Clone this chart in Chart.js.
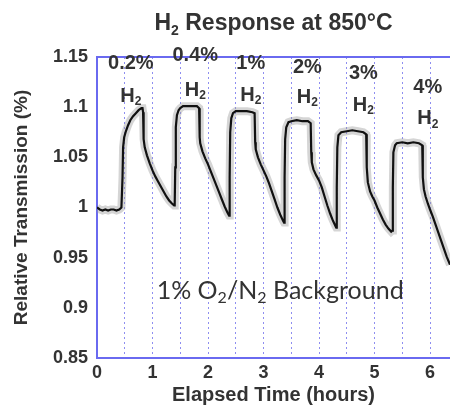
<!DOCTYPE html>
<html>
<head>
<meta charset="utf-8">
<script src="https://cdn.jsdelivr.net/npm/chart.js@4.4.1/dist/chart.umd.min.js"></script>
<style>
  html, body { margin: 0; padding: 0; background: #fff; }
  #wrap { width: 450px; height: 409px; }
</style>
</head>
<body>
<div id="wrap"><canvas id="respChart"></canvas></div>
<script>
// elapsed time (hours) and relative transmission
const elapsedHours = [
  0, 0.05, 0.1, 0.15, 0.2, 0.25, 0.3, 0.35, 0.4, 0.44, 0.46, 0.47, 0.49, 0.52, 0.56, 0.6, 0.65, 0.7, 0.75, 0.8, 0.82, 0.83,
  0.84, 0.86, 0.9, 0.95, 1.0, 1.05, 1.1, 1.15, 1.2, 1.25, 1.3, 1.35, 1.39,
  1.40, 1.41, 1.42, 1.44, 1.47, 1.5, 1.55, 1.6, 1.7, 1.8, 1.84, 1.85, 1.86, 1.9, 1.95, 2.0, 2.05, 2.1, 2.15, 2.2, 2.25, 2.3, 2.35, 2.38,
  2.39, 2.40, 2.42, 2.45, 2.5, 2.6, 2.7, 2.8, 2.84, 2.85, 2.86, 2.9, 2.95, 3.0, 3.05, 3.1, 3.15, 3.2, 3.25, 3.3, 3.35, 3.37,
  3.38, 3.39, 3.41, 3.45, 3.5, 3.6, 3.7, 3.8, 3.85, 3.86, 3.87, 3.9, 3.95, 4.0, 4.05, 4.1, 4.15, 4.2, 4.25, 4.3,
  4.31, 4.32, 4.33, 4.35, 4.4, 4.5, 4.6, 4.7, 4.8, 4.85, 4.86, 4.88, 4.92, 4.96, 5.0, 5.05, 5.1, 5.15, 5.2, 5.25, 5.3,
  5.32, 5.33, 5.34, 5.37, 5.4, 5.5, 5.6, 5.7, 5.8, 5.86, 5.87, 5.89, 5.92, 5.96, 6.0, 6.05, 6.1, 6.15, 6.2, 6.25, 6.3, 6.36
];
const transmission = [
  1.0, 0.998, 0.997, 0.998, 0.997, 0.998, 0.998, 0.997, 0.998, 1.0, 1.03, 1.06, 1.07, 1.076, 1.082, 1.087, 1.091, 1.094, 1.097, 1.099, 1.099, 1.095,
  1.068, 1.06, 1.052, 1.044, 1.037, 1.031, 1.026, 1.021, 1.016, 1.011, 1.007, 1.004, 1.002,
  1.003, 1.04, 1.08, 1.092, 1.097, 1.099, 1.101, 1.101, 1.101, 1.101, 1.099, 1.07, 1.064, 1.056, 1.049, 1.043, 1.036, 1.029, 1.022, 1.015, 1.008, 1.001, 0.995, 0.992,
  1.03, 1.075, 1.089, 1.094, 1.096, 1.096, 1.096, 1.095, 1.094, 1.065, 1.058, 1.05, 1.043, 1.037, 1.031, 1.024, 1.016, 1.008, 1.0, 0.993, 0.987, 0.985,
  1.03, 1.068, 1.08, 1.085, 1.086, 1.087, 1.086, 1.086, 1.084, 1.055, 1.045, 1.038, 1.032, 1.027, 1.02, 1.011, 1.002, 0.994, 0.987, 0.981,
  0.98, 1.02, 1.06, 1.072, 1.075, 1.076, 1.077, 1.076, 1.075, 1.073, 1.04, 1.025, 1.016, 1.011, 1.007, 1.0, 0.994, 0.988, 0.983, 0.979, 0.976,
  0.977, 1.02, 1.055, 1.062, 1.064, 1.065, 1.064, 1.065, 1.064, 1.062, 1.03, 1.018, 1.011, 1.004, 0.998, 0.991, 0.983, 0.975, 0.967, 0.959, 0.951, 0.943
];

const xTicks = [0, 0.5, 1, 1.5, 2, 2.5, 3, 3.5, 4, 4.5, 5, 5.5, 6];
const yTicks = [0.85, 0.9, 0.95, 1, 1.05, 1.1, 1.15];
const yTickLabels = ['0.85', '0.9', '0.95', '1', '1.05', '1.1', '1.15'];

// H2 concentration labels and where they sit (data coords)
const pulseLabels = ['0.2%', '0.4%', '1%', '2%', '3%', '4%'];
const pulseLabelX = [0.61, 1.77, 2.77, 3.79, 4.80, 5.96];
const pulseLabelY = [1.144, 1.152, 1.144, 1.140, 1.134, 1.120];
const gasLabelY = [1.111, 1.117, 1.112, 1.110, 1.102, 1.089];

const axisBlue = '#6a6af0';
const gridBlue = '#8e8ef0';
const textCol = '#333333';
const FONT = "'Liberation Sans', Arial, sans-serif";

// draws a run of text pieces, some of them subscripted
function drawPieces(ctx, pieces, cx, cy, size, weight, family) {
  const subSize = Math.round(size * 0.62);
  let total = 0;
  pieces.forEach(p => {
    ctx.font = weight + ' ' + (p.sub ? subSize : size) + 'px ' + family;
    p.w = ctx.measureText(p.t).width;
    total += p.w;
  });
  let x = cx - total / 2;
  pieces.forEach(p => {
    ctx.font = weight + ' ' + (p.sub ? subSize : size) + 'px ' + family;
    ctx.fillText(p.t, x, cy + (p.sub ? size * 0.3 : 0));
    x += p.w;
  });
}

const textPlugin = {
  id: 'textPlugin',
  afterDraw(chart) {
    const {ctx, chartArea} = chart;
    const xs = chart.scales.x, ys = chart.scales.y;
    ctx.save();
    // top frame
    ctx.strokeStyle = axisBlue;
    ctx.lineWidth = 2;
    ctx.beginPath();
    ctx.moveTo(chartArea.left, chartArea.top);
    ctx.lineTo(chartArea.right, chartArea.top);
    ctx.stroke();

    ctx.fillStyle = textCol;
    ctx.textBaseline = 'middle';
    ctx.textAlign = 'left';
    // title
    drawPieces(ctx, [{t: 'H'}, {t: '2', sub: true}, {t: ' Response at 850°C'}],
      (chartArea.left + chartArea.right) / 2, 24, 23, 'bold', FONT);

    pulseLabels.forEach((lab, i) => {
      const px = xs.getPixelForValue(pulseLabelX[i]);
      drawPieces(ctx, [{t: lab}], px, ys.getPixelForValue(pulseLabelY[i]), 20, 'bold', FONT);
      drawPieces(ctx, [{t: 'H'}, {t: '2', sub: true}], px, ys.getPixelForValue(gasLabelY[i]), 20, 'bold', FONT);
    });

    drawPieces(ctx, [{t: '1% O'}, {t: '2', sub: true}, {t: '/N'}, {t: '2', sub: true}, {t: ' Background'}],
      xs.getPixelForValue(3.3), ys.getPixelForValue(0.917), 25, 'normal', "Lato, 'Open Sans', sans-serif");
    ctx.restore();
  }
};

const ctx = document.getElementById('respChart').getContext('2d');
const respChart = new Chart(ctx, {
  type: 'scatter',
  data: {
    datasets: [{
      // grey noise band
      data: elapsedHours.map((t, i) => ({x: t, y: transmission[i]})),
      showLine: true,
      borderColor: 'rgba(150,150,150,0.4)',
      borderWidth: 8,
      pointRadius: 0,
      order: 2
    }, {
      data: elapsedHours.map((t, i) => ({x: t, y: transmission[i]})),
      showLine: true,
      borderColor: '#111111',
      borderWidth: 2.2,
      pointRadius: 0,
      order: 1
    }]
  },
  options: {
    responsive: true,
    maintainAspectRatio: false,
    animation: false,
    layout: { padding: { top: 57, right: 0, left: 0, bottom: 0 } },
    plugins: {
      legend: { display: false },
      tooltip: { enabled: false }
    },
    scales: {
      x: {
        type: 'linear',
        min: 0,
        max: 6.36,
        afterBuildTicks: axis => { axis.ticks = xTicks.map(v => ({value: v})); },
        afterFit: axis => { axis.height = 51; },
        grid: { color: gridBlue, lineWidth: 1, drawTicks: false },
        border: { color: axisBlue, width: 2, dash: [2, 3] },
        ticks: {
          padding: 4,
          maxRotation: 0,
          color: textCol,
          font: { family: FONT, size: 18, weight: 'bold' },
          callback: v => Number.isInteger(v) ? String(v) : ''
        },
        title: {
          display: true,
          text: 'Elapsed Time (hours)',
          color: textCol,
          font: { family: FONT, size: 20, weight: 'bold' },
          padding: { top: 0, bottom: 2 }
        }
      },
      y: {
        min: 0.85,
        max: 1.15,
        afterBuildTicks: axis => { axis.ticks = yTicks.map(v => ({value: v})); },
        afterFit: axis => { axis.width = 97; },
        grid: { display: false, drawTicks: false },
        border: { color: axisBlue, width: 2 },
        ticks: {
          padding: 9,
          color: textCol,
          font: { family: FONT, size: 18, weight: 'bold' },
          callback: (v, i) => yTickLabels[i]
        },
        title: {
          display: true,
          text: 'Relative Transmission (%)',
          color: textCol,
          font: { family: FONT, size: 19, weight: 'bold' },
          padding: { top: 10, bottom: 0 }
        }
      }
    }
  },
  plugins: [textPlugin]
});
</script>
</body>
</html>
